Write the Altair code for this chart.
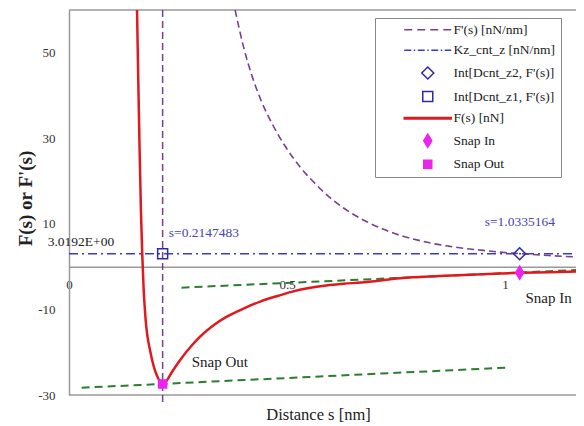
import altair as alt
import pandas as pd

# ---------------- data ----------------
# F(s) [nN]  (red solid)
s_force = [0.156, 0.159, 0.162, 0.165, 0.168, 0.171, 0.174, 0.177, 0.180, 0.186,
           0.192, 0.197, 0.205, 0.2147, 0.225, 0.235, 0.255, 0.28, 0.30, 0.33,
           0.36, 0.40, 0.44, 0.48, 0.51, 0.55, 0.59, 0.63, 0.67, 0.76,
           0.85, 0.99, 1.0335, 1.10, 1.18]
force = [60, 43, 27, 13, 3, -4.8, -10, -13.8, -16.3, -19.6,
         -22.4, -24.2, -26.2, -27.4, -26.5, -24.8, -21.8, -18.6, -16.4, -13.8,
         -11.8, -9.8, -8.1, -6.8, -5.9, -5.0, -4.4, -4.0, -3.7, -2.7,
         -2.2, -1.6, -1.45, -1.3, -1.1]

# F'(s) [nN/nm]  (purple dashed)
s_deriv = [0.381, 0.40, 0.42, 0.44, 0.468, 0.50, 0.53, 0.56, 0.60, 0.64,
           0.683, 0.72, 0.76, 0.80, 0.835, 0.87, 0.913, 0.95, 0.989, 1.034,
           1.10, 1.18]
deriv = [60, 51.5, 44.5, 39, 33, 27.5, 23.3, 19.9, 16.0, 13.0,
         10.5, 8.8, 7.3, 6.2, 5.4, 4.8, 4.2, 3.8, 3.4, 3.05,
         2.6, 2.2]
# vertical F'(s) branch at the snap-out distance
s_deriv_vert = [0.2147483, 0.2147483]
deriv_vert = [60, -32]

# Kz_cnt_z [nN/nm]
kz_value = 3.0192
s_kz = [0.0, 1.18]

# tangent lines (green dashed)
tan_seg = ["upper", "upper", "lower", "lower"]
tan_s = [0.258, 1.18, 0.029, 1.004]
tan_F = [-4.9, -0.7, -28.3, -23.6]

# markers
marker_series = ["Int[Dcnt_z2, F'(s)]", "Int[Dcnt_z1, F'(s)]", "Snap In", "Snap Out"]
marker_s = [1.0335164, 0.2147483, 1.0335164, 0.2147483]
marker_F = [3.0192, 3.0192, -1.4, -27.4]

# legend entries
series_names = ["F'(s) [nN/nm]", "Kz_cnt_z [nN/nm]", "Int[Dcnt_z2, F'(s)]",
                "Int[Dcnt_z1, F'(s)]", "F(s) [nN]", "Snap In", "Snap Out"]

# annotations
ann_text = ["3.0192E+00", "s=0.2147483", "s=1.0335164", "Snap Out", "Snap In"]
ann_s = [0.0275, 0.3096, 1.034, 0.346, 1.1]
ann_F = [5.67, 7.76, 10.33, -22.3, -7.4]
ann_color = ["#222222", "#4545B0", "#4545B0", "#222222", "#222222"]
ann_size = [13.5, 13.5, 13.5, 15, 15]

x_ticks = [0, 0.5, 1]
y_ticks = [-30, -10, 10, 30, 50]

# ---------------- styles ----------------
FONT = "Liberation Serif"
RED = "#E0191E"
PURPLE = "#7A3E8E"
BLUE = "#3B3BC4"
MBLUE = "#2B2BA8"
MAGENTA = "#EE22EE"
GREEN = "#2E7D2E"
GRAY = "#999999"
W, H = 507, 385
X_MAX = 507 / 436.0

series_stroke = [PURPLE, BLUE, MBLUE, MBLUE, RED, MAGENTA, MAGENTA]
series_fill = ["transparent", "transparent", "transparent", "transparent", RED, MAGENTA, MAGENTA]
series_shape = [
    "M-4.7,0H-3.1M-2.1,0H-0.5M0.5,0H2.1M3.1,0H4.7",
    "M-4.7,0H-3.3M-2.8,0H-2.5M-2.0,0H-0.6M-0.1,0H0.2M0.7,0H2.1M2.6,0H2.9M3.4,0H4.7",
    "M0,-1.2L1.2,0L0,1.2L-1.2,0Z",
    "M-1,-1H1V1H-1Z",
    "M-4.7,-0.15H4.7V0.15H-4.7Z",
    "M0,-1.3L0.8,0L0,1.3L-0.8,0Z",
    "M-0.8,-0.8H0.8V0.8H-0.8Z",
]

xscale = alt.Scale(domain=[0, X_MAX], nice=False, zero=False)
yscale = alt.Scale(domain=[-30, 60], nice=False, zero=False)

xaxis = alt.Axis(values=x_ticks, labelExpr="'' + datum.value", offset=-H / 3,
                 domainColor=GRAY, domainWidth=1.5, ticks=False, grid=False,
                 labelPadding=12, labelFont=FONT, labelFontSize=13, labelColor="#333333",
                 labelFlush=False, labelOverlap=False,
                 title="Distance s [nm]", titleFont=FONT, titleFontSize=16.5,
                 titleFontWeight="normal", titleColor="#222222",
                 titleX=249, titleY=148, titleBaseline="middle", titleAnchor="middle")
yaxis = alt.Axis(values=y_ticks, labelExpr="'' + datum.value",
                 domainColor=GRAY, domainWidth=1.5, ticks=False, grid=False,
                 labelPadding=14, labelFont=FONT, labelFontSize=13, labelColor="#333333",
                 labelFlush=False,
                 title="F(s) or F'(s)", titleFont=FONT, titleFontSize=19,
                 titleFontWeight="bold", titleColor="#222222",
                 titleX=-34, titleY=188, titleAnchor="middle")

X = alt.X("s:Q", scale=xscale, axis=xaxis)
Y = alt.Y("F:Q", scale=yscale, axis=yaxis)

borders = alt.Chart(pd.DataFrame({"F": [-30, 60]})).mark_rule(
    color=GRAY, strokeWidth=1.5).encode(y=Y)

tangents = alt.Chart(pd.DataFrame({"seg": tan_seg, "s": tan_s, "F": tan_F})).mark_line(
    color=GREEN, strokeWidth=2, strokeDash=[8, 5], clip=True).encode(x=X, y=Y, detail="seg:N")

kz = alt.Chart(pd.DataFrame({"s": s_kz, "F": [kz_value] * len(s_kz)})).mark_line(
    color=BLUE, strokeWidth=1.5, strokeDash=[9, 4, 2, 4], clip=True).encode(x=X, y=Y)

deriv_line = alt.Chart(pd.DataFrame({"s": s_deriv, "F": deriv})).mark_line(
    color=PURPLE, strokeWidth=1.6, strokeDash=[7, 4], interpolate="monotone", clip=True
).encode(x=X, y=Y)

deriv_vline = alt.Chart(pd.DataFrame({"s": s_deriv_vert, "F": deriv_vert})).mark_line(
    color=PURPLE, strokeWidth=1.5, strokeDash=[7, 4], clip=False).encode(x=X, y=Y)

force_line = alt.Chart(pd.DataFrame({"s": s_force, "F": force})).mark_line(
    color=RED, strokeWidth=2.5, interpolate="monotone", clip=True).encode(x=X, y=Y)

legend = alt.Legend(orient="none", legendX=306, legendY=8, title=None,
                    labelFont=FONT, labelFontSize=13.5, labelColor="#222222", labelLimit=250,
                    symbolSize=100, symbolStrokeWidth=1.5, symbolOpacity=1,
                    padding=5, symbolOffset=41, labelOffset=19, rowPadding=5.6,
                    strokeColor="#888888", fillColor="white")

markers = alt.Chart(pd.DataFrame({"series": marker_series, "s": marker_s, "F": marker_F})).mark_point(
    size=100, strokeWidth=1.5, opacity=1).encode(
    x=X, y=Y,
    shape=alt.Shape("series:N", scale=alt.Scale(domain=series_names, range=series_shape), legend=legend),
    stroke=alt.Stroke("series:N", scale=alt.Scale(domain=series_names, range=series_stroke), legend=legend),
    fill=alt.Fill("series:N", scale=alt.Scale(domain=series_names, range=series_fill), legend=legend),
)

texts = alt.Chart(pd.DataFrame({"t": ann_text, "s": ann_s, "F": ann_F,
                                "c": ann_color, "fs": ann_size})).mark_text(
    font=FONT, baseline="middle", align="center").encode(
    x=X, y=Y, text="t:N",
    color=alt.Color("c:N", scale=None),
    size=alt.Size("fs:Q", scale=None))

chart = alt.layer(borders, tangents, kz, deriv_line, deriv_vline, force_line, markers, texts).properties(
    width=W, height=H,
    autosize=alt.AutoSizeParams(type="none"),
    padding={"left": 61, "top": 2, "right": 0, "bottom": 28},
    background="white",
).configure_view(stroke=None)

chart.save("out.html", embed_options={"renderer": "svg", "actions": False})
